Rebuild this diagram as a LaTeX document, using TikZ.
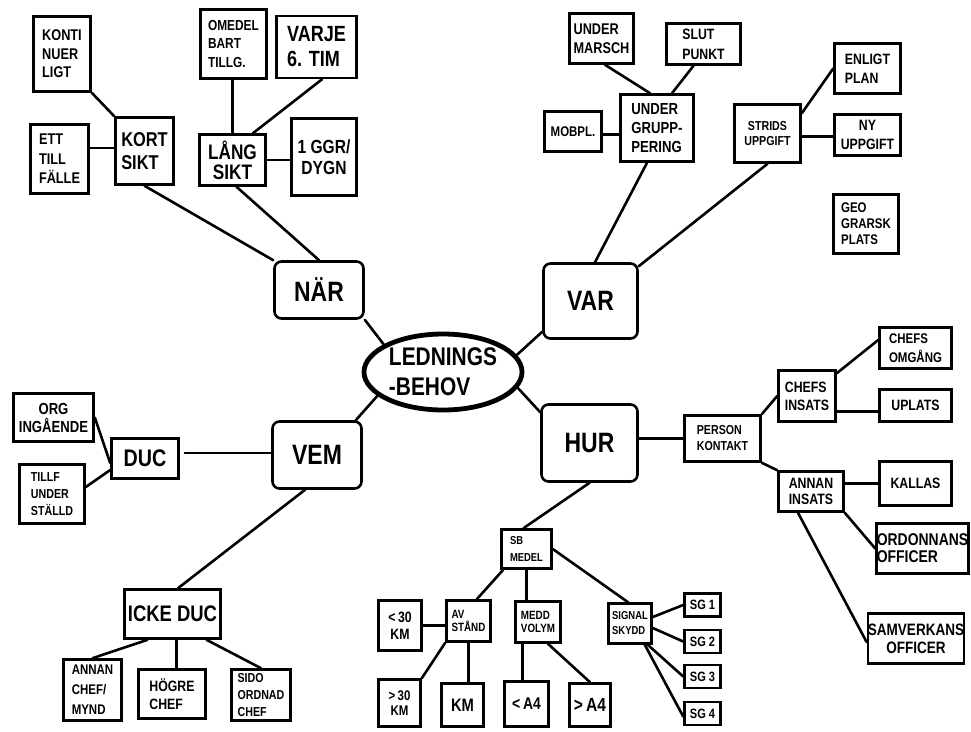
\documentclass[tikz,border=0pt]{standalone}
\usepackage{fontspec}
\setmainfont{Liberation Sans}[FakeStretch=0.82, UprightFont=* Bold, BoldFont=* Bold]
\usetikzlibrary{shapes.geometric,calc}
\newcommand\fz[2]{\fontsize{#1}{#2}\selectfont}
\tikzset{
  box/.style={draw, line width=2.6pt, inner sep=0pt, align=left},
  bx/.style 2 args={box, minimum width=#1pt, minimum height=#2pt},
  rbx/.style 2 args={bx={#1}{#2}, rounded corners=7pt, align=center, font=\fz{28}{30}},
  ln/.style={line width=2.6pt, line cap=round},
}
\begin{document}
\begin{tikzpicture}[x=1pt,y=-1pt]
\useasboundingbox[fill=white] (0,0) rectangle (971,731);
% centre
\node[ellipse, draw, line width=4.8pt, minimum width=158pt, minimum height=76pt, inner sep=0pt, align=left, font=\fz{25.5}{30}] (ell) at (443,372) {LEDNINGS\\-BEHOV};
\node[rbx={89}{57}] (nar) at (319,290) {NÄR};
\node[rbx={94}{75}] (var) at (590.5,301) {VAR};
\node[rbx={89}{67}] (vem) at (317,455) {VEM};
\node[rbx={96}{77}] (hur) at (589.5,443) {HUR};
% NÄR branch
\node[bx={57}{75}, font=\fz{15.5}{18.5}] (konti) at (62,54) {KONTI\\NUER\\LIGT};
\node[bx={58}{69}, font=\fz{15.5}{19.5}] (ett) at (59.5,159) {ETT\\TILL\\FÄLLE};
\node[bx={58}{67}, font=\fz{20}{23}] (kort) at (144.5,151) {KORT\\SIKT};
\node[bx={66}{69}, font=\fz{14.5}{18.5}] (omedel) at (233.5,44) {OMEDEL\\BART\\TILLG.};
\node[bx={80}{62}, font=\fz{22}{25}] (varje) at (316.5,47) {VARJE\\6. TIM};
\node[bx={66}{51}, font=\fz{21}{20}, align=center] (lang) at (232.5,160) {LÅNG\\SIKT};
\node[bx={65}{77}, font=\fz{19}{21}, align=center] (ggr) at (324,157) {1 GGR/\\DYGN};
% VAR branch
\node[bx={64}{50}, font=\fz{15.5}{19}] (under) at (601.5,38.5) {UNDER\\MARSCH};
\node[bx={74}{41}, font=\fz{15}{20}] (slut) at (703.5,44) {SLUT\\PUNKT};
\node[bx={73}{67}, font=\fz{16}{19}] (ugrupp) at (657,128) {UNDER\\GRUPP-\\PERING};
\node[bx={57}{40}, font=\fz{14}{15}] (mobpl) at (573,131.5) {MOBPL.};
\node[bx={66}{58}, font=\fz{13}{15}, align=center] (strids) at (767.5,133.5) {STRIDS\\UPPGIFT};
\node[bx={66}{50}, font=\fz{15}{19}] (enligt) at (867.5,68.5) {ENLIGT\\PLAN};
\node[bx={66}{41}, font=\fz{15}{19}, align=center] (ny) at (867.5,135) {NY\\UPPGIFT};
\node[bx={65}{59}, font=\fz{14}{16}] (geo) at (866,224) {GEO\\GRARSK\\PLATS};
% VEM branch
\node[bx={80}{48}, font=\fz{16}{18}, align=center] (org) at (53.5,417.5) {ORG\\INGÅENDE};
\node[bx={65}{59}, font=\fz{13}{17}] (tillf) at (52,494) {TILLF\\UNDER\\STÄLLD};
\node[bx={67}{40}, font=\fz{24}{24}] (duc) at (145,458.5) {DUC};
\node[bx={96}{49}, font=\fz{22.5}{22}] (icke) at (172.5,614) {ICKE DUC};
\node[bx={58}{61}, font=\fz{14}{20}] (annan) at (92.5,690) {ANNAN\\CHEF/\\MYND};
\node[bx={67}{49}, font=\fz{15}{18}] (hogre) at (172,694) {HÖGRE\\CHEF};
\node[bx={59}{51}, font=\fz{13}{17}] (sido) at (261,695) {SIDO\\ORDNAD\\CHEF};
% HUR branch
\node[bx={50}{39}, font=\fz{11.5}{17}] (sb) at (526.5,549) {SB\\MEDEL};
\node[bx={44}{41}, font=\fz{12}{12.5}] (av) at (468.5,621) {AV\\STÅND};
\node[bx={45}{41}, font=\fz{12}{12.5}] (medd) at (538,622) {MEDD\\VOLYM};
\node[bx={43}{40}, font=\fz{11.5}{15}] (signal) at (630,623.5) {SIGNAL\\SKYDD};
\node[bx={43}{50}, font=\fz{15}{17}, align=center] (lt30) at (400,625.5) {<\,30\\KM};
\node[bx={42}{47}, font=\fz{14}{15}, align=center] (gt30) at (399.5,703) {>\,30\\KM};
\node[bx={42}{43}, font=\fz{18}{20}] (km) at (462.5,705) {KM};
\node[bx={44}{45}, font=\fz{17}{20}] (lta4) at (526.5,704) {<\,A4};
\node[bx={41}{43}, font=\fz{19}{20}] (gta4) at (590,705) {>\,A4};
\node[bx={36}{23}, font=\fz{13.5}{14}] (sg1) at (702.5,605) {SG 1};
\node[bx={36}{23}, font=\fz{13.5}{14}] (sg2) at (702.5,641.5) {SG 2};
\node[bx={36}{23}, font=\fz{13.5}{14}] (sg3) at (702.5,676.5) {SG 3};
\node[bx={36}{23}, font=\fz{13.5}{14}] (sg4) at (702.5,713.5) {SG 4};
\node[bx={76}{46}, font=\fz{13}{16}] (person) at (722.5,438.5) {PERSON\\KONTAKT};
\node[bx={57}{51}, font=\fz{15}{18}] (chefsins) at (807,396) {CHEFS\\INSATS};
\node[bx={72}{41}, font=\fz{14}{19}] (omgang) at (915.5,348) {CHEFS\\OMGÅNG};
\node[bx={72}{32}, font=\fz{15}{16}] (uplats) at (915.5,405.5) {UPLATS};
\node[bx={65}{40}, font=\fz{15}{16}] (annanins) at (811,491.5) {ANNAN\\INSATS};
\node[bx={72}{44}, font=\fz{15}{16}] (kallas) at (915.5,483.5) {KALLAS};
\node[bx={92}{50}, font=\fz{17}{17}] (ordon) at (922.5,548.5) {ORDONNANS\\OFFICER};
\node[bx={95}{50}, font=\fz{16.5}{18}, align=center] (samv) at (916,638.5) {SAMVERKANS\\OFFICER};
% connectors: centre
\draw[ln] (nar.south east) -- (ell.155);
\draw[ln] ($(var.south west)+(0,-8)$) -- (ell.13);
\draw[ln] ($(vem.north east)+(-7,0)$) -- (ell.200);
\draw[ln] ($(hur.north west)+(0,9)$) -- (ell.348);
% NÄR
\draw[ln] (kort.south) -- (nar.north west);
\draw[ln] ($(lang.south)+(4,0)$) -- (nar.north);
\draw[ln] (konti.south east) -- (kort.north west);
\draw[ln] ($(kort.west)+(0,-3)$) -- ($(kort.west -| ett.east)+(0,-3)$);
\draw[ln] (lang.north) -- (lang.north |- omedel.south);
\draw[ln] ($(varje.south)+(5.5,0)$) -- ($(lang.north)+(20.5,0)$);
\draw[ln] (lang.east) -- (lang.east -| ggr.west);
% VAR
\draw[ln] ($(ugrupp.south)+(-10,0)$) -- ($(var.north)+(4.5,0)$);
\draw[ln] (strids.south) -- ($(var.north east)+(0,4)$);
\draw[ln] ($(under.south)+(3.5,0)$) -- ($(ugrupp.north)+(-7,0)$);
\draw[ln] ($(slut.south)+(-10,0)$) -- ($(ugrupp.north)+(15,0)$);
\draw[ln] ($(mobpl.east)+(0,3)$) -- ($(mobpl.east -| ugrupp.west)+(0,3)$);
\draw[ln] ($(strids.north east)+(0,10)$) -- (enligt.west);
\draw[ln] ($(strids.east)+(0,3)$) -- ($(strids.east -| ny.west)+(0,3)$);
% VEM
\draw[ln] ($(vem.west)+(0,-2)$) -- ($(vem.west -| duc.east)+(5,-2)$);
\draw[ln] (org.east) -- ($(duc.west)+(0,4.5)$);
\draw[ln] ($(tillf.east)+(0,-7)$) -- ($(duc.west)+(0,11.5)$);
\draw[ln] ($(vem.south)+(-12,0)$) -- ($(icke.north)+(5.5,0)$);
\draw[ln] ($(icke.south)+(-25,0)$) -- (annan.north);
\draw[ln] ($(icke.south)+(4,0)$) -- ($(icke.south |- hogre.north)+(4,0)$);
\draw[ln] ($(icke.south)+(34,0)$) -- (sido.north);
% HUR
\draw[ln] (hur.east |- person.west) -- (person.west);
\draw[ln] (hur.south) -- ($(sb.north)+(-3,0)$);
\draw[ln] ($(sb.south west)+(3,0)$) -- ($(av.north east)+(-15,0)$);
\draw[ln] (sb.south) -- (sb.south |- medd.north);
\draw[ln] (sb.east) -- ($(signal.north)+(-2,0)$);
\draw[ln] (lt30.east) -- (lt30.east -| av.west);
\draw[ln] (av.south west) -- (gt30.north east);
\draw[ln] (av.south) -- (av.south |- km.north);
\draw[ln] ($(lta4.north)+(-4,0)$) -- ($(lta4.north |- medd.south)+(-4,0)$);
\draw[ln] ($(medd.south)+(10,0)$) -- (gta4.north);
\draw[ln] ($(signal.east)+(0,-6.5)$) -- (sg1.west);
\draw[ln] ($(signal.east)+(0,4.5)$) -- (sg2.west);
\draw[ln] ($(signal.south east)+(-5,0)$) -- (sg3.west);
\draw[ln] ($(signal.south east)+(-8,0)$) -- ($(sg4.west)+(0,3)$);
\draw[ln] (person.north east) -- (chefsins.west);
\draw[ln] (person.south east) -- (annanins.north west);
\draw[ln] ($(chefsins.north east)+(0,4)$) -- ($(omgang.west)+(0,-8)$);
\draw[ln] ($(uplats.west)+(0,6)$) -- ($(uplats.west -| chefsins.east)+(0,6)$);
\draw[ln] (kallas.west) -- (kallas.west -| annanins.east);
\draw[ln] (annanins.south east) -- (ordon.west);
\draw[ln] ($(annanins.south)+(-13,0)$) -- ($(samv.west)+(0,3.5)$);
\end{tikzpicture}
\end{document}
